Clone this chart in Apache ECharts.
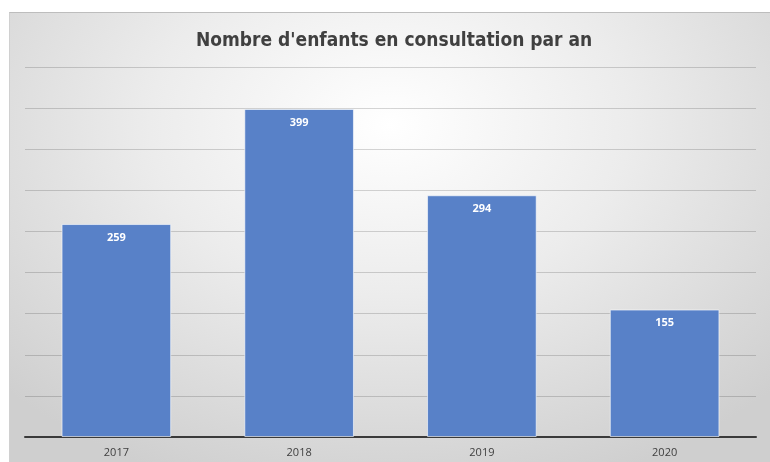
<!DOCTYPE html>
<html>
<head>
<meta charset="utf-8">
<script src="https://cdn.jsdelivr.net/npm/echarts@6/dist/echarts.min.js"></script>
<style>
html,body{margin:0;padding:0;background:#fff;}
#chart{position:absolute;left:0;top:0;width:770px;height:462px;
background: radial-gradient(ellipse 70% 85% at 50% 25%, #ffffff 0%, #ececec 45%, #cfcfcf 100%) 9px 12px / 761px 450px no-repeat, #fff;}
#edge{position:absolute;left:9px;top:12px;width:761px;height:450px;border-top:1px solid #bdbdbd;border-left:1px solid #d0d0d0;box-sizing:border-box;pointer-events:none;}
</style>
</head>
<body>
<div id="chart"></div>
<div id="edge"></div>
<script>
const categories = ['2017', '2018', '2019', '2020'];
const values = [259, 399, 294, 155];
const titleText = "Nombre d'enfants en consultation par an";

const chart = echarts.init(document.getElementById('chart'), null, {renderer: 'canvas'});
chart.setOption({
  backgroundColor: 'transparent',
  animation: false,
  title: {
    text: titleText,
    left: 191,
    top: 27,
    textStyle: {fontFamily: '"DejaVu Sans Condensed", Roboto, sans-serif', fontWeight: 'bold', fontSize: 19, color: '#404040'}
  },
  grid: {left: 25, right: 14, top: 67, bottom: 25, containLabel: false},
  xAxis: {
    type: 'category',
    data: categories,
    axisLine: {lineStyle: {color: '#3a3a3a', width: 2}},
    axisTick: {show: false},
    axisLabel: {color: '#404040', fontSize: 11, fontFamily: 'Open Sans', margin: 10}
  },
  yAxis: {
    type: 'value',
    min: 0, max: 450, interval: 50,
    axisLabel: {show: false},
    axisLine: {show: false},
    axisTick: {show: false},
    splitLine: {lineStyle: {color: 'rgba(0,0,0,0.16)', width: 1}}
  },
  series: [{
    type: 'bar',
    data: values,
    barCategoryGap: '40%',
    itemStyle: {color: '#5881C8', borderColor: 'rgba(255,255,255,0.6)', borderWidth: 1},
    label: {
      show: true, position: 'insideTop', distance: 8,
      color: '#ffffff', fontWeight: 'bold', fontSize: 11, fontFamily: 'Open Sans'
    }
  }]
});
</script>
</body>
</html>
